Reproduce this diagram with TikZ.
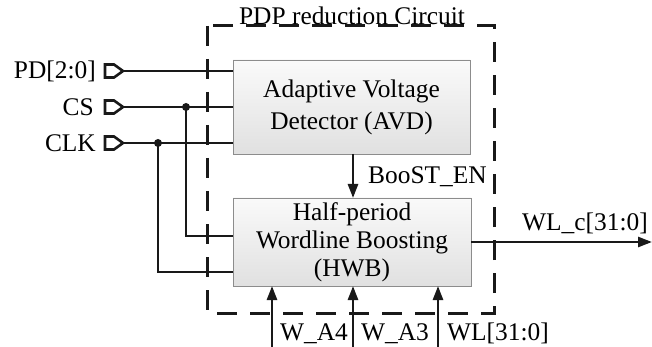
\documentclass[tikz,border=0pt]{standalone}
\usepackage{fontspec}
\setmainfont{Liberation Serif}
\usetikzlibrary{arrows.meta,calc}
\begin{document}
\begin{tikzpicture}[x=1pt,y=1pt,
  txt/.style={font=\fontsize{25.4}{30}\selectfont, inner sep=0pt},
  box/.style={draw=black!45, line width=0.8pt, top color=white!98!black, bottom color=white!88!black, inner sep=0pt, align=center, font=\fontsize{25.4}{30}\selectfont},
  sig/.style={line width=2.6pt, draw=black!90},
  arr/.style={sig, -{Triangle[length=14pt,width=10pt]}},
  portshape/.style={line width=2.6pt, draw=black!90, fill=white, line join=miter},
  dot/.style={circle, fill=black!90, inner sep=0pt, minimum size=8pt},
  dashbox/.style={line width=3pt, draw=black!90, dash pattern=on 20pt off 13pt}
]
\useasboundingbox (0,0) rectangle (652,-347);

% dashed enclosure
\draw[dashbox] (207,-26) rectangle (494,-313);
\node[txt, anchor=base] (title) at (352,-25) {PDP reduction Circuit};

% blocks
\node[box, minimum width=237pt, minimum height=94pt, font=\fontsize{25.4}{32}\selectfont] (avd) at (351.5,-107) {Adaptive Voltage\\Detector (AVD)};
\node[box, minimum width=238pt, minimum height=88pt, font=\fontsize{25.4}{28}\selectfont] (hwb) at (352,-242) {Half-period\\Wordline Boosting\\(HWB)};

% input ports
\foreach \n/\y in {pd/71,cs/107,clk/143}{
  \draw[portshape] (105,-\y+6.5) -- (114,-\y+6.5) -- (123,-\y) -- (114,-\y-6.5) -- (105,-\y-6.5) -- cycle;
  \coordinate (\n tip) at (123,-\y);
}
\node[txt, anchor=east] (pdl) at (96,-71) {PD[2:0]};
\node[txt, anchor=east] (csl) at (94,-107) {CS};
\node[txt, anchor=east] (clkl) at (96,-143) {CLK};

% input wires
\draw[sig] (pdtip) -- (pdtip -| avd.west);
\draw[sig] (cstip) -- (cstip -| avd.west);
\draw[sig] (clktip) -- (clktip -| avd.west);
\node[dot] (csdot) at (186,-107) {};
\node[dot] (clkdot) at (158,-143) {};
\coordinate (cshwb) at (233,-236);
\coordinate (clkhwb) at (233,-272);
\draw[sig] (csdot.center) |- (cshwb);
\draw[sig] (clkdot.center) |- (clkhwb);

% BooST_EN
\coordinate (bt) at (353,-154);
\coordinate (bb) at (353,-198);
\draw[arr] (bt) -- (bb);
\node[txt, anchor=west] (boost) at (368,-177) {BooST\_EN};

% output
\coordinate (outs) at (471,-242);
\coordinate (oute) at (652,-242);
\draw[arr] (outs) -- (oute);
\node[txt, anchor=base west] (wlc) at (522,-230) {WL\_c[31:0]};

% bottom inputs
\foreach \n/\x in {a4/272,a3/353,wl/438}{
  \coordinate (\n s) at (\x,-347);
  \coordinate (\n e) at (\x,-286);
  \draw[arr] (\n s) -- (\n e);
}
\node[txt, anchor=base west] (wa4) at (280,-340) {W\_A4};
\node[txt, anchor=base west] (wa3) at (361,-340) {W\_A3};
\node[txt, anchor=base west] (wl) at (447,-340) {WL[31:0]};
\end{tikzpicture}
\end{document}
